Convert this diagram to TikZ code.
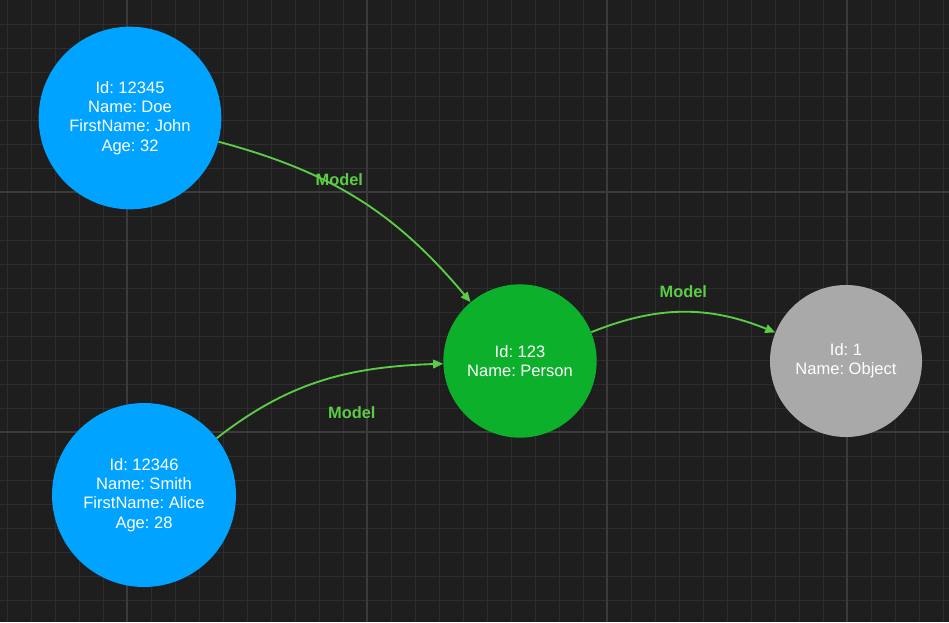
\documentclass[tikz,border=0pt]{standalone}
\usepackage{fontspec}
\setmainfont{Liberation Sans}
\usepackage{xcolor}
\usetikzlibrary{arrows.meta}

\definecolor{canvas}{HTML}{1E1E1E}
\definecolor{gridminor}{HTML}{2D2D2D}
\definecolor{gridmajor}{HTML}{3B3B3B}
\definecolor{instblue}{HTML}{00A3FF}
\definecolor{classgreen}{HTML}{0DB02B}
\definecolor{basegray}{HTML}{A9A9A9}
\definecolor{modelgreen}{HTML}{5BCC45}

\frenchspacing

\begin{document}
\begin{tikzpicture}[
  x=0.75pt, y=-0.75pt,
  obj/.style={circle, fill=#1, text=white, align=center, inner sep=0pt, font=\fontsize{12.4}{14.4}\selectfont},
  model/.style={-{Triangle[length=7.5pt, width=6.5pt]}, line width=1.4pt, draw=modelgreen},
  mlabel/.style={font=\fontsize{12.3}{14}\selectfont\bfseries, text=modelgreen, inner sep=1pt}
]
  % Canvas and grid
  \fill[canvas] (0,0) rectangle (949,622);
  \useasboundingbox (0,0) rectangle (949,622);
  \foreach \gx in {0,...,39}
    \draw[gridminor, line width=0.75pt] (7+24*\gx,0) -- (7+24*\gx,622);
  \foreach \gy in {1,...,25}
    \draw[gridminor, line width=0.75pt] (0,24*\gy) -- (949,24*\gy);
  \foreach \gx in {127,367,607,847}
    \draw[gridmajor, line width=1.5pt] (\gx,0) -- (\gx,622);
  \foreach \gy in {192,432}
    \draw[gridmajor, line width=1.5pt] (0,\gy) -- (949,\gy);

  % Instances (left)
  \node[obj=instblue, minimum size=137pt] (doe)   at (130,118) {Id: 12345\\Name: Doe\\FirstName: John\\Age: 32};
  \node[obj=instblue, minimum size=138pt] (smith) at (144,495) {Id: 12346\\Name: Smith\\FirstName: Alice\\Age: 28};

  % Classes (right)
  \node[obj=classgreen, minimum size=115pt] (person) at (520,361) {Id: 123\\Name: Person};
  \node[obj=basegray,   minimum size=114pt] (object) at (846,361) {Id: 1\\Name: Object};

  % Model links
  \draw[model] (doe) to[out=-15, in=130]
    node[mlabel, pos=0.42, above=0pt] (m1) {Model} (person);
  \draw[model] (smith) to[out=38, in=182]
    node[mlabel, pos=0.45, below right=10.5pt, yshift=-4.5pt] (m2) {Model} (person);
  \draw[model] (person) to[out=22, in=158]
    node[mlabel, pos=0.5, above=9pt] (m3) {Model} (object);

\end{tikzpicture}
\end{document}
